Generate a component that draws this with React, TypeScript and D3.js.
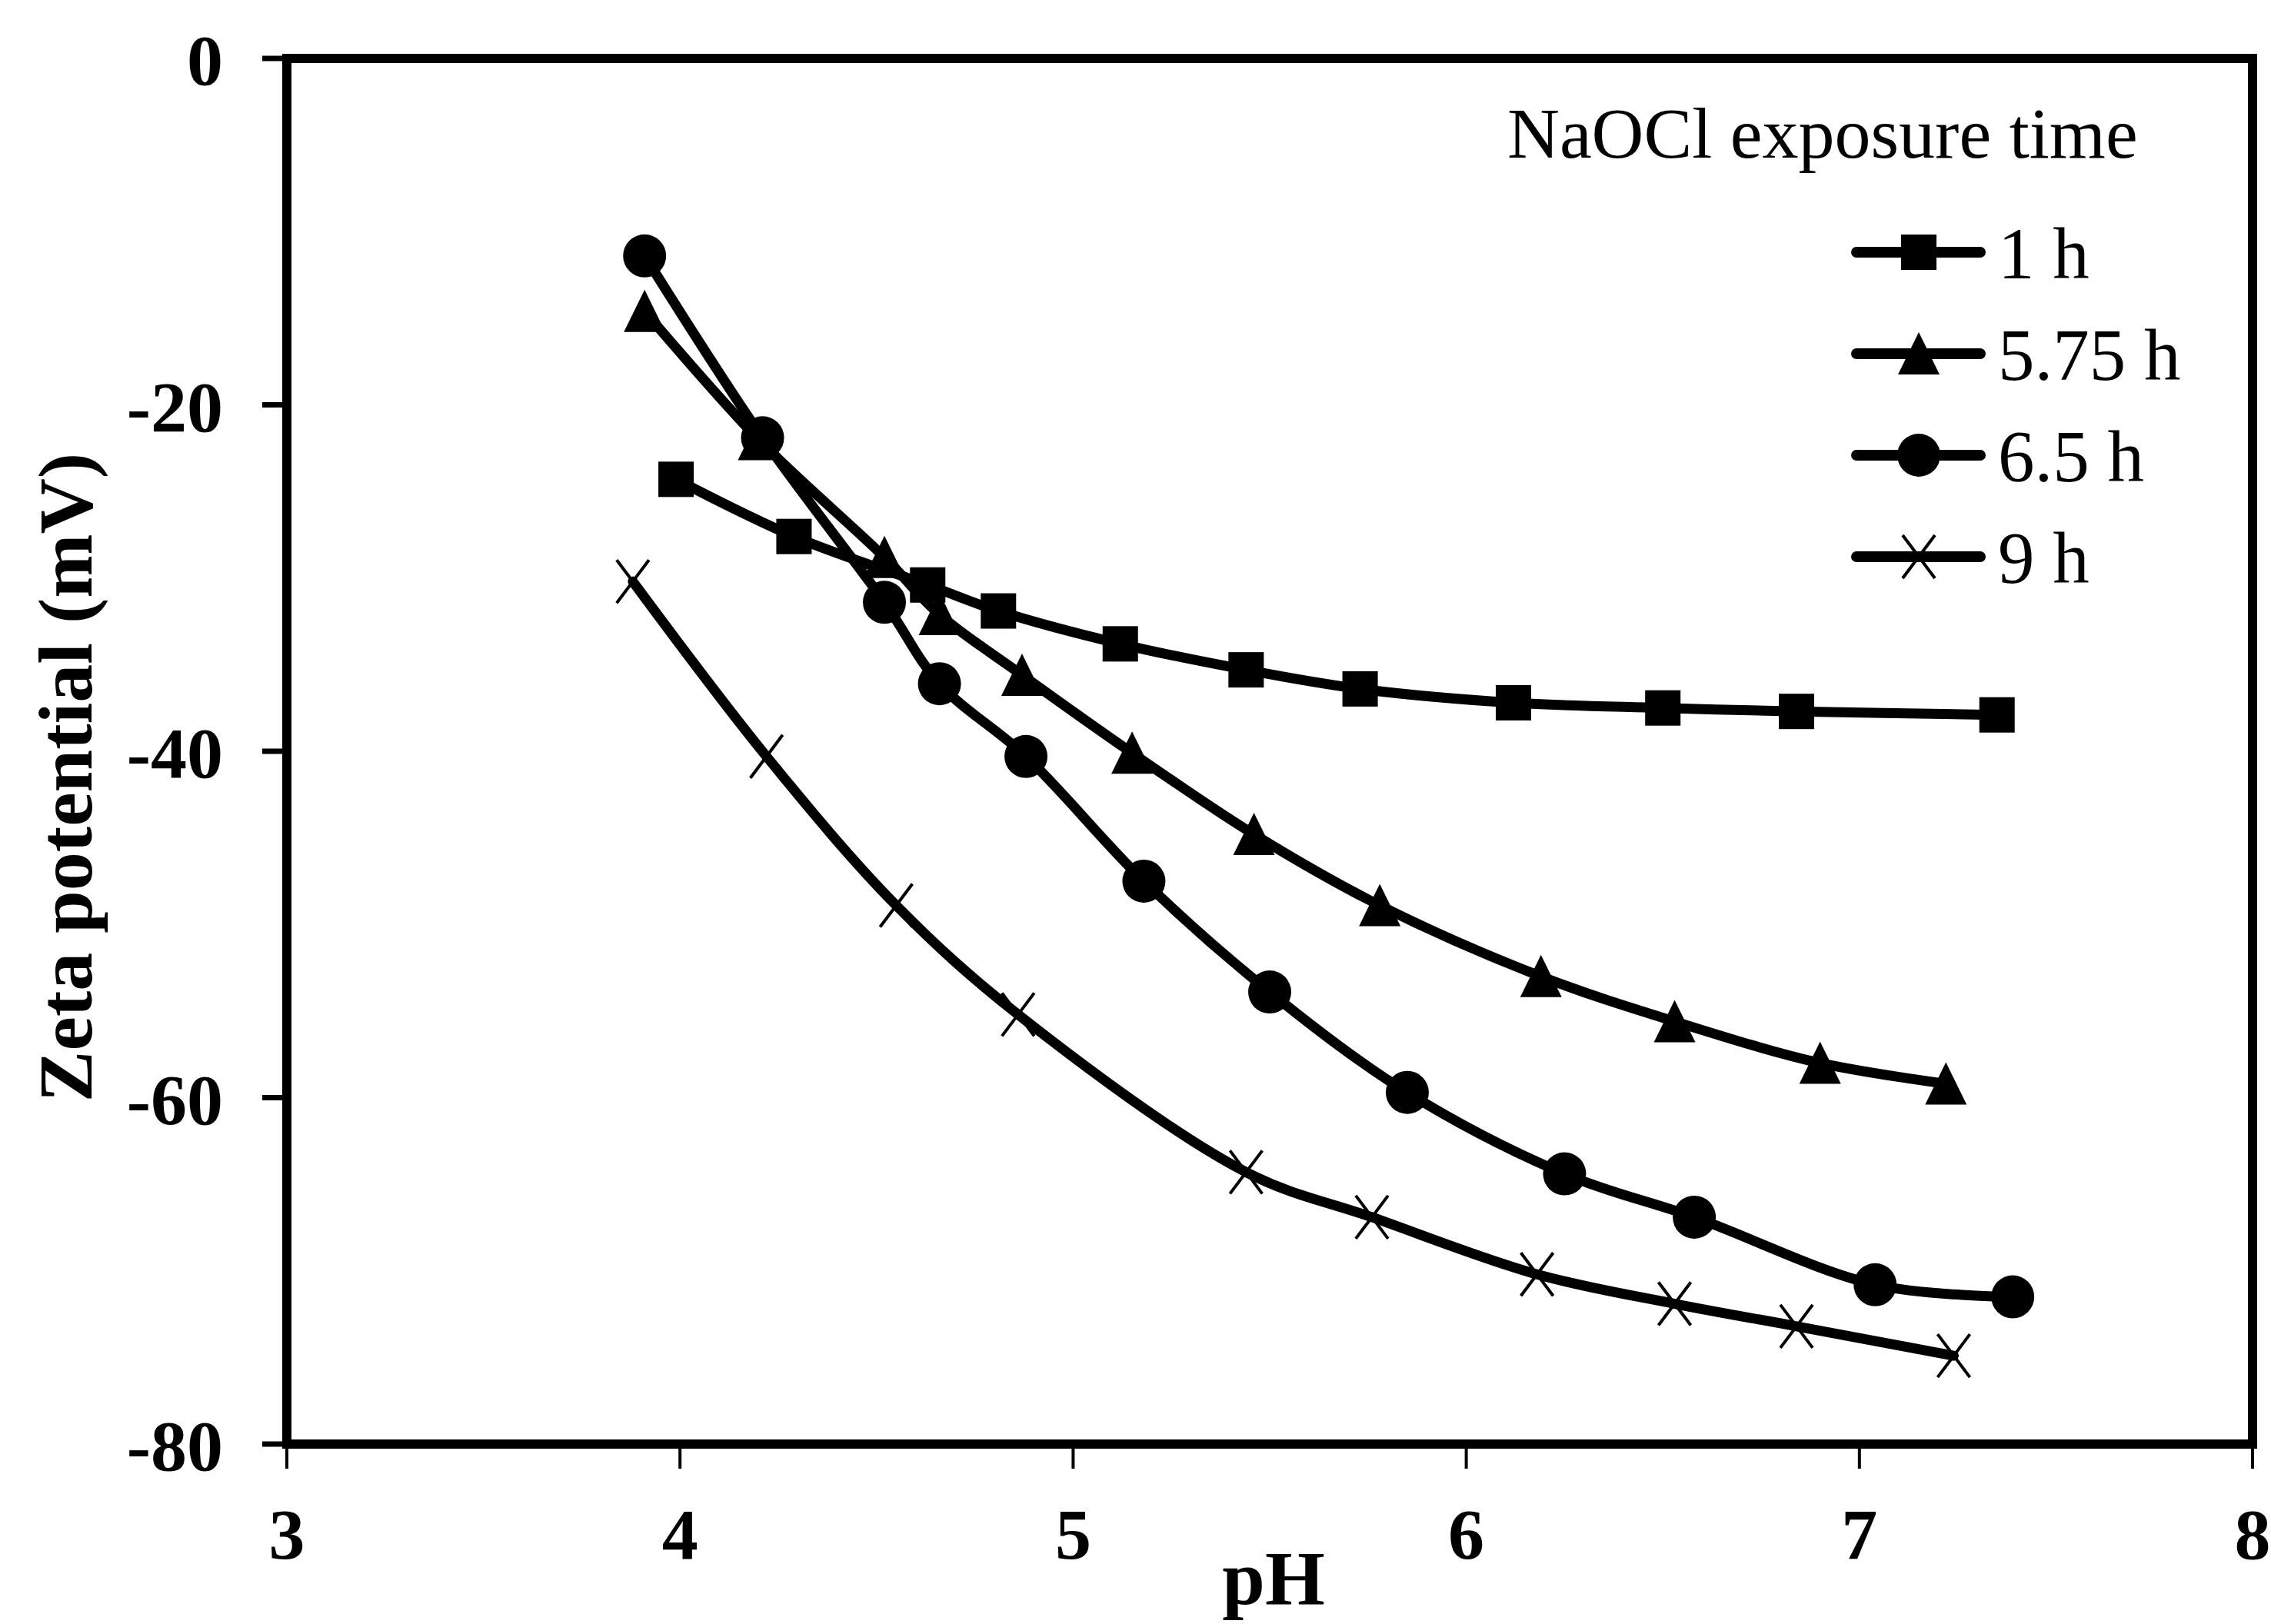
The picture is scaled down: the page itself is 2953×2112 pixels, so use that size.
import React from 'react';
import * as d3 from 'd3';

// pH values and zeta potentials (mV)
const ph1h = [3.99, 4.29, 4.63, 4.81, 5.12, 5.44, 5.73, 6.12, 6.50, 6.84, 7.35];
const zeta1h = [-24.3, -27.6, -30.4, -31.9, -33.8, -35.3, -36.4, -37.2, -37.5, -37.7, -37.9];

const ph575h = [3.91, 4.20, 4.52, 4.66, 4.87, 5.15, 5.46, 5.78, 6.19, 6.53, 6.90, 7.22];
const zeta575h = [-14.6, -22.0, -28.8, -32.1, -35.6, -40.1, -44.8, -48.9, -53.0, -55.6, -58.0, -59.2];

const ph65h = [3.91, 4.21, 4.52, 4.66, 4.88, 5.18, 5.50, 5.85, 6.25, 6.58, 7.04, 7.39];
const zeta65h = [-11.4, -21.9, -31.4, -36.1, -40.3, -47.5, -53.9, -59.7, -64.4, -66.9, -70.8, -71.5];

const ph9h = [3.88, 4.22, 4.55, 4.86, 5.44, 5.76, 6.18, 6.53, 6.84, 7.24];
const zeta9h = [-30.2, -40.3, -48.9, -55.2, -64.3, -66.9, -70.2, -71.9, -73.2, -74.9];

const seriesNames = ['1 h', '5.75 h', '6.5 h', '9 h'];
const markerKinds = ['square', 'triangle', 'circle', 'cross'];

const xTicks = [3, 4, 5, 6, 7, 8];
const yTicks = [0, -20, -40, -60, -80];

const font = "'Liberation Serif', 'Times New Roman', serif";

const Marker = ({ kind, x, y }) => {
  if (kind === 'square') {
    return <rect x={x - 23} y={y - 23} width={46} height={46} fill='#000' />;
  }
  if (kind === 'triangle') {
    return <path d={`M${x},${y - 28} L${x + 27},${y + 27} L${x - 27},${y + 27} Z`} fill='#000' />;
  }
  if (kind === 'circle') {
    return <circle cx={x} cy={y} r={28} fill='#000' />;
  }
  return (
    <path d={`M${x - 21},${y - 28} L${x + 21},${y + 28} M${x + 21},${y - 28} L${x - 21},${y + 28}`}
      stroke='#000' strokeWidth={4} fill='none' />
  );
};

const App = () => {
  const width = 2953;
  const height = 2112;
  const left = 373, right = 2929, top = 76, bottom = 1878;

  const xScale = d3.scaleLinear().domain([3, 8]).range([left, right]);
  const yScale = d3.scaleLinear().domain([0, -80]).range([top, bottom]);

  const series = [
    d3.zip(ph1h, zeta1h),
    d3.zip(ph575h, zeta575h),
    d3.zip(ph65h, zeta65h),
    d3.zip(ph9h, zeta9h),
  ];

  const line = d3.line()
    .x(d => xScale(d[0]))
    .y(d => yScale(d[1]))
    .curve(d3.curveCatmullRom.alpha(0.5));

  const legendX = 2414;
  const legendY = 328;
  const legendStep = 132;

  return (
    <svg width={width} height={height} viewBox={`0 0 ${width} ${height}`}
      style={{ position: 'absolute', left: 0, top: 0, display: 'block', background: '#fff' }}>
      <rect x={0} y={0} width={width} height={height} fill='#fff' />

      {/* frame */}
      <rect x={left} y={top} width={right - left} height={bottom - top} fill='none' stroke='#000' strokeWidth={12} />

      {/* x ticks */}
      {xTicks.map(t =>
        <g key={`xt-${t}`}>
          <line x1={xScale(t)} x2={xScale(t)} y1={bottom} y2={bottom + 32} stroke='#000' strokeWidth={4} />
          <text x={xScale(t)} y={2027} textAnchor='middle' fontFamily={font} fontWeight='bold' fontSize={94}>{t}</text>
        </g>
      )}

      {/* y ticks */}
      {yTicks.map(t =>
        <g key={`yt-${t}`}>
          <line x1={left - 32} x2={left} y1={yScale(t)} y2={yScale(t)} stroke='#000' strokeWidth={7} />
          <text x={290} y={yScale(t) + 34} textAnchor='end' fontFamily={font} fontWeight='bold' fontSize={94}>{t}</text>
        </g>
      )}

      {/* axis titles */}
      <text x={1656} y={2086} textAnchor='middle' fontFamily={font} fontWeight='bold' fontSize={100}>pH</text>
      <text transform='translate(119,1011) rotate(-90)' textAnchor='middle' fontFamily={font} fontWeight='bold' fontSize={100}>
        Zeta potential (mV)
      </text>

      {/* series */}
      {series.map((s, i) =>
        <g key={`s-${i}`}>
          <path d={line(s)} fill='none' stroke='#000' strokeWidth={13} strokeLinejoin='round' strokeLinecap='round' />
          {s.map((d, j) =>
            <Marker key={`m-${i}-${j}`} kind={markerKinds[i]} x={xScale(d[0])} y={yScale(d[1])} />
          )}
        </g>
      )}

      {/* legend */}
      <text x={1960} y={205} fontFamily={font} fontSize={94}>NaOCl exposure time</text>
      {seriesNames.map((name, i) => {
        const ly = legendY + i * legendStep;
        return (
          <g key={`lg-${i}`}>
            <line x1={legendX} x2={legendX + 161} y1={ly} y2={ly} stroke='#000' strokeWidth={14} strokeLinecap='round' />
            <Marker kind={markerKinds[i]} x={legendX + 81} y={ly} />
            <text x={legendX + 184} y={ly + 34} fontFamily={font} fontSize={95}>{name}</text>
          </g>
        );
      })}
    </svg>
  );
};

export default App;
